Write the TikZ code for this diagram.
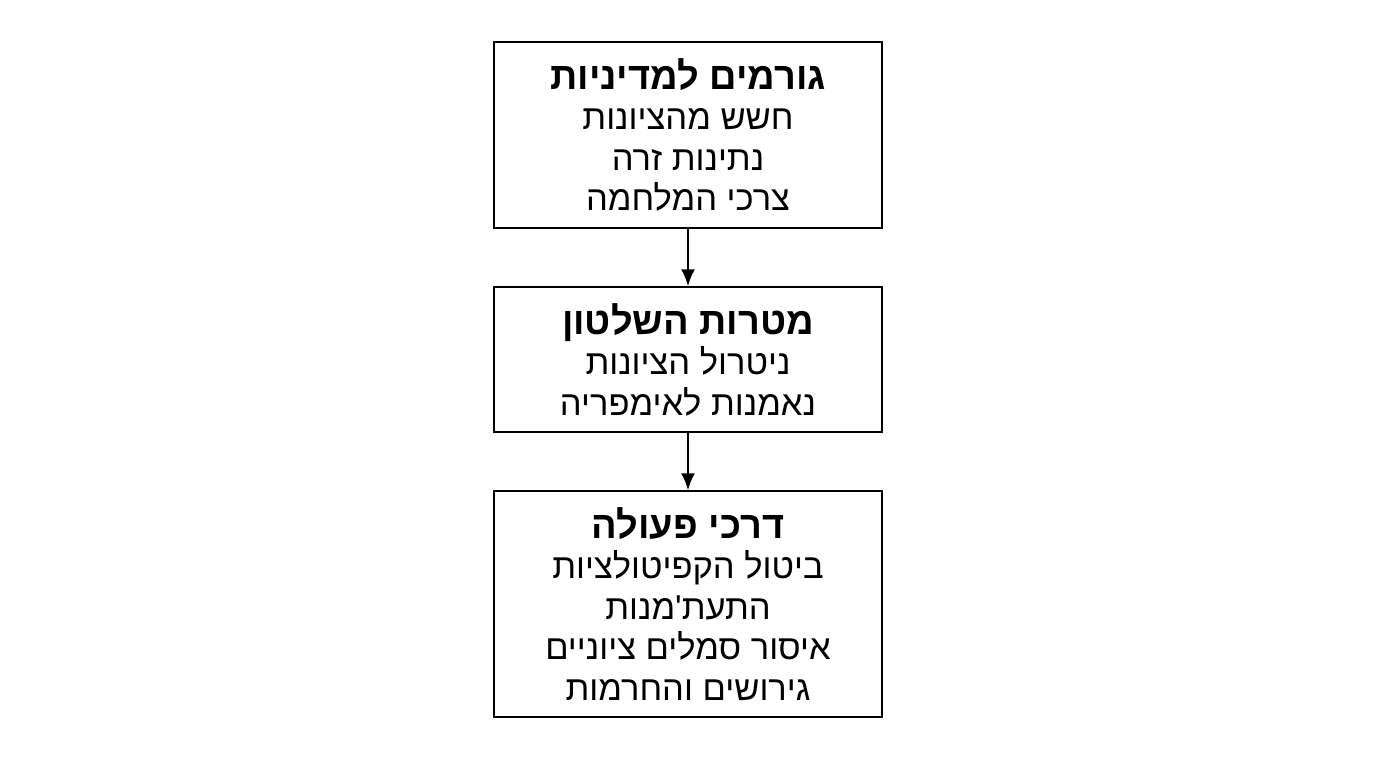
\documentclass[tikz,border=0pt]{standalone}
\usepackage{fontspec}
\setmainfont{Liberation Sans}
\newfontfamily\hebfont[Script=Hebrew]{Liberation Sans}
\TeXXeTstate=1
\usetikzlibrary{arrows.meta}
\newcommand{\hebline}[1]{{\hebfont\beginR #1\endR}}
\tikzset{
  flowbox/.style={draw, line width=1.5pt, minimum width=388pt, inner sep=0pt, align=center,
    font=\fontsize{34.5}{40.5}\selectfont},
  flowarrow/.style={-{Latex[length=17pt,width=14pt]}, line width=2pt},
}
\begin{document}
\begin{tikzpicture}[x=1pt,y=-1pt]
	\useasboundingbox (0,0) rectangle (1376,768);
	
	%Shape: Rectangle [id:factors]
	\node [flowbox, minimum height=186pt] (factors) at (688,135) {\textbf{\fontsize{38}{40.5}\selectfont\hebline{גורמים למדיניות}}\\ \hebline{חשש מהציונות}\\ \hebline{נתינות זרה}\\ \hebline{צרכי המלחמה}};
	%Shape: Rectangle [id:goals]
	\node [flowbox, minimum height=145pt] (goals) at (688,359.5) {\textbf{\fontsize{38}{40.5}\selectfont\hebline{מטרות השלטון}}\\ \hebline{ניטרול הציונות}\\ \hebline{נאמנות לאימפריה}};
	%Shape: Rectangle [id:actions]
	\node [flowbox, minimum height=226pt] (actions) at (688,604) {\textbf{\fontsize{38}{40.5}\selectfont\hebline{דרכי פעולה}}\\ \hebline{ביטול הקפיטולציות}\\ \hebline{התעת'מנות}\\ \hebline{איסור סמלים ציוניים}\\ \hebline{גירושים והחרמות}};
	
	%Straight Lines
	\draw [flowarrow] (factors) -- (goals) ;
	\draw [flowarrow] (goals) -- (actions) ;
	
\end{tikzpicture}
\end{document}
